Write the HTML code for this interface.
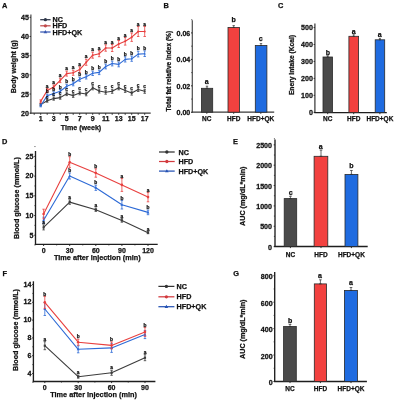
<!DOCTYPE html>
<html><head><meta charset="utf-8"><style>
html,body{margin:0;padding:0;background:#fff;width:394px;height:400px;overflow:hidden}
svg{display:block;will-change:transform;font-family:"Liberation Sans",sans-serif}
</style></head><body>
<svg width="394" height="400" viewBox="0 0 394 400">
<rect x="0" y="0" width="394" height="400" fill="#fff"/>
<text x="1.90" y="7.96" font-size="7.4" text-anchor="start" font-weight="bold" fill="#111" stroke="#111" stroke-width="0.25" >A</text>
<text x="163.50" y="8.06" font-size="7.4" text-anchor="start" font-weight="bold" fill="#111" stroke="#111" stroke-width="0.25" >B</text>
<text x="278.00" y="8.26" font-size="7.4" text-anchor="start" font-weight="bold" fill="#111" stroke="#111" stroke-width="0.25" >C</text>
<text x="2.00" y="144.06" font-size="7.4" text-anchor="start" font-weight="bold" fill="#111" stroke="#111" stroke-width="0.25" >D</text>
<text x="233.00" y="143.86" font-size="7.4" text-anchor="start" font-weight="bold" fill="#111" stroke="#111" stroke-width="0.25" >E</text>
<text x="2.60" y="275.76" font-size="7.4" text-anchor="start" font-weight="bold" fill="#111" stroke="#111" stroke-width="0.25" >F</text>
<text x="233.30" y="275.76" font-size="7.4" text-anchor="start" font-weight="bold" fill="#111" stroke="#111" stroke-width="0.25" >G</text>
<line x1="30.90" y1="14.40" x2="30.90" y2="113.80" stroke="#4a4a4a" stroke-width="1.2" />
<line x1="29.60" y1="113.20" x2="30.90" y2="113.20" stroke="#1e1e1e" stroke-width="0.9" />
<text transform="translate(28.90 115.90) scale(0.95 1)" font-size="7.5" text-anchor="end" font-weight="bold" fill="#111" stroke="#111" stroke-width="0.28" >20</text>
<line x1="29.60" y1="94.02" x2="30.90" y2="94.02" stroke="#1e1e1e" stroke-width="0.9" />
<text transform="translate(28.90 96.72) scale(0.95 1)" font-size="7.5" text-anchor="end" font-weight="bold" fill="#111" stroke="#111" stroke-width="0.28" >25</text>
<line x1="29.60" y1="74.84" x2="30.90" y2="74.84" stroke="#1e1e1e" stroke-width="0.9" />
<text transform="translate(28.90 77.54) scale(0.95 1)" font-size="7.5" text-anchor="end" font-weight="bold" fill="#111" stroke="#111" stroke-width="0.28" >30</text>
<line x1="29.60" y1="55.66" x2="30.90" y2="55.66" stroke="#1e1e1e" stroke-width="0.9" />
<text transform="translate(28.90 58.36) scale(0.95 1)" font-size="7.5" text-anchor="end" font-weight="bold" fill="#111" stroke="#111" stroke-width="0.28" >35</text>
<line x1="29.60" y1="36.48" x2="30.90" y2="36.48" stroke="#1e1e1e" stroke-width="0.9" />
<text transform="translate(28.90 39.18) scale(0.95 1)" font-size="7.5" text-anchor="end" font-weight="bold" fill="#111" stroke="#111" stroke-width="0.28" >40</text>
<line x1="29.60" y1="17.30" x2="30.90" y2="17.30" stroke="#1e1e1e" stroke-width="0.9" />
<text transform="translate(28.90 20.00) scale(0.95 1)" font-size="7.5" text-anchor="end" font-weight="bold" fill="#111" stroke="#111" stroke-width="0.28" >45</text>
<line x1="30.30" y1="113.20" x2="150.70" y2="113.20" stroke="#3a3a3a" stroke-width="1.2" />
<line x1="34.20" y1="113.20" x2="34.20" y2="114.80" stroke="#1e1e1e" stroke-width="0.9" />
<line x1="40.70" y1="113.20" x2="40.70" y2="114.80" stroke="#1e1e1e" stroke-width="0.9" />
<text x="40.70" y="120.92" font-size="7.0" text-anchor="middle" font-weight="bold" fill="#111" stroke="#111" stroke-width="0.25" >1</text>
<line x1="47.20" y1="113.20" x2="47.20" y2="114.80" stroke="#1e1e1e" stroke-width="0.9" />
<line x1="53.70" y1="113.20" x2="53.70" y2="114.80" stroke="#1e1e1e" stroke-width="0.9" />
<text x="53.70" y="120.92" font-size="7.0" text-anchor="middle" font-weight="bold" fill="#111" stroke="#111" stroke-width="0.25" >3</text>
<line x1="60.20" y1="113.20" x2="60.20" y2="114.80" stroke="#1e1e1e" stroke-width="0.9" />
<line x1="66.70" y1="113.20" x2="66.70" y2="114.80" stroke="#1e1e1e" stroke-width="0.9" />
<text x="66.70" y="120.92" font-size="7.0" text-anchor="middle" font-weight="bold" fill="#111" stroke="#111" stroke-width="0.25" >5</text>
<line x1="73.20" y1="113.20" x2="73.20" y2="114.80" stroke="#1e1e1e" stroke-width="0.9" />
<line x1="79.70" y1="113.20" x2="79.70" y2="114.80" stroke="#1e1e1e" stroke-width="0.9" />
<text x="79.70" y="120.92" font-size="7.0" text-anchor="middle" font-weight="bold" fill="#111" stroke="#111" stroke-width="0.25" >7</text>
<line x1="86.20" y1="113.20" x2="86.20" y2="114.80" stroke="#1e1e1e" stroke-width="0.9" />
<line x1="92.70" y1="113.20" x2="92.70" y2="114.80" stroke="#1e1e1e" stroke-width="0.9" />
<text x="92.70" y="120.92" font-size="7.0" text-anchor="middle" font-weight="bold" fill="#111" stroke="#111" stroke-width="0.25" >9</text>
<line x1="99.20" y1="113.20" x2="99.20" y2="114.80" stroke="#1e1e1e" stroke-width="0.9" />
<line x1="105.70" y1="113.20" x2="105.70" y2="114.80" stroke="#1e1e1e" stroke-width="0.9" />
<text x="105.70" y="120.92" font-size="7.0" text-anchor="middle" font-weight="bold" fill="#111" stroke="#111" stroke-width="0.25" >11</text>
<line x1="112.20" y1="113.20" x2="112.20" y2="114.80" stroke="#1e1e1e" stroke-width="0.9" />
<line x1="118.70" y1="113.20" x2="118.70" y2="114.80" stroke="#1e1e1e" stroke-width="0.9" />
<text x="118.70" y="120.92" font-size="7.0" text-anchor="middle" font-weight="bold" fill="#111" stroke="#111" stroke-width="0.25" >13</text>
<line x1="125.20" y1="113.20" x2="125.20" y2="114.80" stroke="#1e1e1e" stroke-width="0.9" />
<line x1="131.70" y1="113.20" x2="131.70" y2="114.80" stroke="#1e1e1e" stroke-width="0.9" />
<text x="131.70" y="120.92" font-size="7.0" text-anchor="middle" font-weight="bold" fill="#111" stroke="#111" stroke-width="0.25" >15</text>
<line x1="138.20" y1="113.20" x2="138.20" y2="114.80" stroke="#1e1e1e" stroke-width="0.9" />
<line x1="144.70" y1="113.20" x2="144.70" y2="114.80" stroke="#1e1e1e" stroke-width="0.9" />
<text x="144.70" y="120.92" font-size="7.0" text-anchor="middle" font-weight="bold" fill="#111" stroke="#111" stroke-width="0.25" >17</text>
<text x="81.00" y="130.36" font-size="7.1" text-anchor="middle" font-weight="bold" fill="#111" stroke="#111" stroke-width="0.25" >Time (week)</text>
<text x="13.80" y="66.70" font-size="7.1" text-anchor="middle" font-weight="bold" fill="#111" stroke="#111" stroke-width="0.25" transform="rotate(-90 13.80 66.70)" dy="2.56">Body weight (g)</text>
<polyline points="40.70,104.60 47.20,100.80 53.70,98.60 60.20,97.60 66.70,93.80 73.20,95.60 79.70,93.00 86.20,94.00 92.70,87.80 99.20,91.00 105.70,92.20 112.20,91.30 118.70,87.80 125.20,90.40 131.70,93.10 138.20,89.50 144.70,91.30" fill="none" stroke="#3c3c3c" stroke-width="1.1" stroke-linejoin="round"/>
<line x1="40.70" y1="103.60" x2="40.70" y2="105.60" stroke="#3c3c3c" stroke-width="0.8" />
<line x1="39.45" y1="103.60" x2="41.95" y2="103.60" stroke="#3c3c3c" stroke-width="0.8" />
<line x1="39.45" y1="105.60" x2="41.95" y2="105.60" stroke="#3c3c3c" stroke-width="0.8" />
<rect x="39.80" y="103.70" width="1.80" height="1.80" fill="#3c3c3c"/>
<line x1="47.20" y1="99.40" x2="47.20" y2="102.20" stroke="#3c3c3c" stroke-width="0.8" />
<line x1="45.95" y1="99.40" x2="48.45" y2="99.40" stroke="#3c3c3c" stroke-width="0.8" />
<line x1="45.95" y1="102.20" x2="48.45" y2="102.20" stroke="#3c3c3c" stroke-width="0.8" />
<rect x="46.30" y="99.90" width="1.80" height="1.80" fill="#3c3c3c"/>
<line x1="53.70" y1="97.00" x2="53.70" y2="100.20" stroke="#3c3c3c" stroke-width="0.8" />
<line x1="52.45" y1="97.00" x2="54.95" y2="97.00" stroke="#3c3c3c" stroke-width="0.8" />
<line x1="52.45" y1="100.20" x2="54.95" y2="100.20" stroke="#3c3c3c" stroke-width="0.8" />
<rect x="52.80" y="97.70" width="1.80" height="1.80" fill="#3c3c3c"/>
<line x1="60.20" y1="96.00" x2="60.20" y2="99.20" stroke="#3c3c3c" stroke-width="0.8" />
<line x1="58.95" y1="96.00" x2="61.45" y2="96.00" stroke="#3c3c3c" stroke-width="0.8" />
<line x1="58.95" y1="99.20" x2="61.45" y2="99.20" stroke="#3c3c3c" stroke-width="0.8" />
<rect x="59.30" y="96.70" width="1.80" height="1.80" fill="#3c3c3c"/>
<line x1="66.70" y1="92.00" x2="66.70" y2="95.60" stroke="#3c3c3c" stroke-width="0.8" />
<line x1="65.45" y1="92.00" x2="67.95" y2="92.00" stroke="#3c3c3c" stroke-width="0.8" />
<line x1="65.45" y1="95.60" x2="67.95" y2="95.60" stroke="#3c3c3c" stroke-width="0.8" />
<rect x="65.80" y="92.90" width="1.80" height="1.80" fill="#3c3c3c"/>
<line x1="73.20" y1="93.80" x2="73.20" y2="97.40" stroke="#3c3c3c" stroke-width="0.8" />
<line x1="71.95" y1="93.80" x2="74.45" y2="93.80" stroke="#3c3c3c" stroke-width="0.8" />
<line x1="71.95" y1="97.40" x2="74.45" y2="97.40" stroke="#3c3c3c" stroke-width="0.8" />
<rect x="72.30" y="94.70" width="1.80" height="1.80" fill="#3c3c3c"/>
<line x1="79.70" y1="91.20" x2="79.70" y2="94.80" stroke="#3c3c3c" stroke-width="0.8" />
<line x1="78.45" y1="91.20" x2="80.95" y2="91.20" stroke="#3c3c3c" stroke-width="0.8" />
<line x1="78.45" y1="94.80" x2="80.95" y2="94.80" stroke="#3c3c3c" stroke-width="0.8" />
<rect x="78.80" y="92.10" width="1.80" height="1.80" fill="#3c3c3c"/>
<line x1="86.20" y1="92.20" x2="86.20" y2="95.80" stroke="#3c3c3c" stroke-width="0.8" />
<line x1="84.95" y1="92.20" x2="87.45" y2="92.20" stroke="#3c3c3c" stroke-width="0.8" />
<line x1="84.95" y1="95.80" x2="87.45" y2="95.80" stroke="#3c3c3c" stroke-width="0.8" />
<rect x="85.30" y="93.10" width="1.80" height="1.80" fill="#3c3c3c"/>
<line x1="92.70" y1="85.80" x2="92.70" y2="89.80" stroke="#3c3c3c" stroke-width="0.8" />
<line x1="91.45" y1="85.80" x2="93.95" y2="85.80" stroke="#3c3c3c" stroke-width="0.8" />
<line x1="91.45" y1="89.80" x2="93.95" y2="89.80" stroke="#3c3c3c" stroke-width="0.8" />
<rect x="91.80" y="86.90" width="1.80" height="1.80" fill="#3c3c3c"/>
<line x1="99.20" y1="89.00" x2="99.20" y2="93.00" stroke="#3c3c3c" stroke-width="0.8" />
<line x1="97.95" y1="89.00" x2="100.45" y2="89.00" stroke="#3c3c3c" stroke-width="0.8" />
<line x1="97.95" y1="93.00" x2="100.45" y2="93.00" stroke="#3c3c3c" stroke-width="0.8" />
<rect x="98.30" y="90.10" width="1.80" height="1.80" fill="#3c3c3c"/>
<line x1="105.70" y1="90.20" x2="105.70" y2="94.20" stroke="#3c3c3c" stroke-width="0.8" />
<line x1="104.45" y1="90.20" x2="106.95" y2="90.20" stroke="#3c3c3c" stroke-width="0.8" />
<line x1="104.45" y1="94.20" x2="106.95" y2="94.20" stroke="#3c3c3c" stroke-width="0.8" />
<rect x="104.80" y="91.30" width="1.80" height="1.80" fill="#3c3c3c"/>
<line x1="112.20" y1="89.30" x2="112.20" y2="93.30" stroke="#3c3c3c" stroke-width="0.8" />
<line x1="110.95" y1="89.30" x2="113.45" y2="89.30" stroke="#3c3c3c" stroke-width="0.8" />
<line x1="110.95" y1="93.30" x2="113.45" y2="93.30" stroke="#3c3c3c" stroke-width="0.8" />
<rect x="111.30" y="90.40" width="1.80" height="1.80" fill="#3c3c3c"/>
<line x1="118.70" y1="85.80" x2="118.70" y2="89.80" stroke="#3c3c3c" stroke-width="0.8" />
<line x1="117.45" y1="85.80" x2="119.95" y2="85.80" stroke="#3c3c3c" stroke-width="0.8" />
<line x1="117.45" y1="89.80" x2="119.95" y2="89.80" stroke="#3c3c3c" stroke-width="0.8" />
<rect x="117.80" y="86.90" width="1.80" height="1.80" fill="#3c3c3c"/>
<line x1="125.20" y1="88.40" x2="125.20" y2="92.40" stroke="#3c3c3c" stroke-width="0.8" />
<line x1="123.95" y1="88.40" x2="126.45" y2="88.40" stroke="#3c3c3c" stroke-width="0.8" />
<line x1="123.95" y1="92.40" x2="126.45" y2="92.40" stroke="#3c3c3c" stroke-width="0.8" />
<rect x="124.30" y="89.50" width="1.80" height="1.80" fill="#3c3c3c"/>
<line x1="131.70" y1="91.10" x2="131.70" y2="95.10" stroke="#3c3c3c" stroke-width="0.8" />
<line x1="130.45" y1="91.10" x2="132.95" y2="91.10" stroke="#3c3c3c" stroke-width="0.8" />
<line x1="130.45" y1="95.10" x2="132.95" y2="95.10" stroke="#3c3c3c" stroke-width="0.8" />
<rect x="130.80" y="92.20" width="1.80" height="1.80" fill="#3c3c3c"/>
<line x1="138.20" y1="87.50" x2="138.20" y2="91.50" stroke="#3c3c3c" stroke-width="0.8" />
<line x1="136.95" y1="87.50" x2="139.45" y2="87.50" stroke="#3c3c3c" stroke-width="0.8" />
<line x1="136.95" y1="91.50" x2="139.45" y2="91.50" stroke="#3c3c3c" stroke-width="0.8" />
<rect x="137.30" y="88.60" width="1.80" height="1.80" fill="#3c3c3c"/>
<line x1="144.70" y1="89.30" x2="144.70" y2="93.30" stroke="#3c3c3c" stroke-width="0.8" />
<line x1="143.45" y1="89.30" x2="145.95" y2="89.30" stroke="#3c3c3c" stroke-width="0.8" />
<line x1="143.45" y1="93.30" x2="145.95" y2="93.30" stroke="#3c3c3c" stroke-width="0.8" />
<rect x="143.80" y="90.40" width="1.80" height="1.80" fill="#3c3c3c"/>
<polyline points="40.70,105.60 47.20,95.80 53.70,93.60 60.20,91.20 66.70,86.30 73.20,83.80 79.70,79.30 86.20,76.80 92.70,73.30 99.20,72.40 105.70,66.50 112.20,63.50 118.70,64.40 125.20,59.40 131.70,58.70 138.20,54.10 144.70,53.70" fill="none" stroke="#2d6ad6" stroke-width="1.1" stroke-linejoin="round"/>
<line x1="40.70" y1="104.40" x2="40.70" y2="106.80" stroke="#2d6ad6" stroke-width="0.8" />
<line x1="39.45" y1="104.40" x2="41.95" y2="104.40" stroke="#2d6ad6" stroke-width="0.8" />
<line x1="39.45" y1="106.80" x2="41.95" y2="106.80" stroke="#2d6ad6" stroke-width="0.8" />
<polygon points="40.70,104.40 39.60,106.40 41.80,106.40" fill="#2d6ad6"/>
<line x1="47.20" y1="94.20" x2="47.20" y2="97.40" stroke="#2d6ad6" stroke-width="0.8" />
<line x1="45.95" y1="94.20" x2="48.45" y2="94.20" stroke="#2d6ad6" stroke-width="0.8" />
<line x1="45.95" y1="97.40" x2="48.45" y2="97.40" stroke="#2d6ad6" stroke-width="0.8" />
<polygon points="47.20,94.60 46.10,96.60 48.30,96.60" fill="#2d6ad6"/>
<line x1="53.70" y1="91.80" x2="53.70" y2="95.40" stroke="#2d6ad6" stroke-width="0.8" />
<line x1="52.45" y1="91.80" x2="54.95" y2="91.80" stroke="#2d6ad6" stroke-width="0.8" />
<line x1="52.45" y1="95.40" x2="54.95" y2="95.40" stroke="#2d6ad6" stroke-width="0.8" />
<polygon points="53.70,92.40 52.60,94.40 54.80,94.40" fill="#2d6ad6"/>
<line x1="60.20" y1="89.40" x2="60.20" y2="93.00" stroke="#2d6ad6" stroke-width="0.8" />
<line x1="58.95" y1="89.40" x2="61.45" y2="89.40" stroke="#2d6ad6" stroke-width="0.8" />
<line x1="58.95" y1="93.00" x2="61.45" y2="93.00" stroke="#2d6ad6" stroke-width="0.8" />
<polygon points="60.20,90.00 59.10,92.00 61.30,92.00" fill="#2d6ad6"/>
<line x1="66.70" y1="84.30" x2="66.70" y2="88.30" stroke="#2d6ad6" stroke-width="0.8" />
<line x1="65.45" y1="84.30" x2="67.95" y2="84.30" stroke="#2d6ad6" stroke-width="0.8" />
<line x1="65.45" y1="88.30" x2="67.95" y2="88.30" stroke="#2d6ad6" stroke-width="0.8" />
<polygon points="66.70,85.10 65.60,87.10 67.80,87.10" fill="#2d6ad6"/>
<line x1="73.20" y1="81.80" x2="73.20" y2="85.80" stroke="#2d6ad6" stroke-width="0.8" />
<line x1="71.95" y1="81.80" x2="74.45" y2="81.80" stroke="#2d6ad6" stroke-width="0.8" />
<line x1="71.95" y1="85.80" x2="74.45" y2="85.80" stroke="#2d6ad6" stroke-width="0.8" />
<polygon points="73.20,82.60 72.10,84.60 74.30,84.60" fill="#2d6ad6"/>
<line x1="79.70" y1="77.30" x2="79.70" y2="81.30" stroke="#2d6ad6" stroke-width="0.8" />
<line x1="78.45" y1="77.30" x2="80.95" y2="77.30" stroke="#2d6ad6" stroke-width="0.8" />
<line x1="78.45" y1="81.30" x2="80.95" y2="81.30" stroke="#2d6ad6" stroke-width="0.8" />
<polygon points="79.70,78.10 78.60,80.10 80.80,80.10" fill="#2d6ad6"/>
<line x1="86.20" y1="74.60" x2="86.20" y2="79.00" stroke="#2d6ad6" stroke-width="0.8" />
<line x1="84.95" y1="74.60" x2="87.45" y2="74.60" stroke="#2d6ad6" stroke-width="0.8" />
<line x1="84.95" y1="79.00" x2="87.45" y2="79.00" stroke="#2d6ad6" stroke-width="0.8" />
<polygon points="86.20,75.60 85.10,77.60 87.30,77.60" fill="#2d6ad6"/>
<line x1="92.70" y1="71.10" x2="92.70" y2="75.50" stroke="#2d6ad6" stroke-width="0.8" />
<line x1="91.45" y1="71.10" x2="93.95" y2="71.10" stroke="#2d6ad6" stroke-width="0.8" />
<line x1="91.45" y1="75.50" x2="93.95" y2="75.50" stroke="#2d6ad6" stroke-width="0.8" />
<polygon points="92.70,72.10 91.60,74.10 93.80,74.10" fill="#2d6ad6"/>
<line x1="99.20" y1="70.20" x2="99.20" y2="74.60" stroke="#2d6ad6" stroke-width="0.8" />
<line x1="97.95" y1="70.20" x2="100.45" y2="70.20" stroke="#2d6ad6" stroke-width="0.8" />
<line x1="97.95" y1="74.60" x2="100.45" y2="74.60" stroke="#2d6ad6" stroke-width="0.8" />
<polygon points="99.20,71.20 98.10,73.20 100.30,73.20" fill="#2d6ad6"/>
<line x1="105.70" y1="64.10" x2="105.70" y2="68.90" stroke="#2d6ad6" stroke-width="0.8" />
<line x1="104.45" y1="64.10" x2="106.95" y2="64.10" stroke="#2d6ad6" stroke-width="0.8" />
<line x1="104.45" y1="68.90" x2="106.95" y2="68.90" stroke="#2d6ad6" stroke-width="0.8" />
<polygon points="105.70,65.30 104.60,67.30 106.80,67.30" fill="#2d6ad6"/>
<line x1="112.20" y1="61.10" x2="112.20" y2="65.90" stroke="#2d6ad6" stroke-width="0.8" />
<line x1="110.95" y1="61.10" x2="113.45" y2="61.10" stroke="#2d6ad6" stroke-width="0.8" />
<line x1="110.95" y1="65.90" x2="113.45" y2="65.90" stroke="#2d6ad6" stroke-width="0.8" />
<polygon points="112.20,62.30 111.10,64.30 113.30,64.30" fill="#2d6ad6"/>
<line x1="118.70" y1="62.00" x2="118.70" y2="66.80" stroke="#2d6ad6" stroke-width="0.8" />
<line x1="117.45" y1="62.00" x2="119.95" y2="62.00" stroke="#2d6ad6" stroke-width="0.8" />
<line x1="117.45" y1="66.80" x2="119.95" y2="66.80" stroke="#2d6ad6" stroke-width="0.8" />
<polygon points="118.70,63.20 117.60,65.20 119.80,65.20" fill="#2d6ad6"/>
<line x1="125.20" y1="56.80" x2="125.20" y2="62.00" stroke="#2d6ad6" stroke-width="0.8" />
<line x1="123.95" y1="56.80" x2="126.45" y2="56.80" stroke="#2d6ad6" stroke-width="0.8" />
<line x1="123.95" y1="62.00" x2="126.45" y2="62.00" stroke="#2d6ad6" stroke-width="0.8" />
<polygon points="125.20,58.20 124.10,60.20 126.30,60.20" fill="#2d6ad6"/>
<line x1="131.70" y1="56.10" x2="131.70" y2="61.30" stroke="#2d6ad6" stroke-width="0.8" />
<line x1="130.45" y1="56.10" x2="132.95" y2="56.10" stroke="#2d6ad6" stroke-width="0.8" />
<line x1="130.45" y1="61.30" x2="132.95" y2="61.30" stroke="#2d6ad6" stroke-width="0.8" />
<polygon points="131.70,57.50 130.60,59.50 132.80,59.50" fill="#2d6ad6"/>
<line x1="138.20" y1="51.30" x2="138.20" y2="56.90" stroke="#2d6ad6" stroke-width="0.8" />
<line x1="136.95" y1="51.30" x2="139.45" y2="51.30" stroke="#2d6ad6" stroke-width="0.8" />
<line x1="136.95" y1="56.90" x2="139.45" y2="56.90" stroke="#2d6ad6" stroke-width="0.8" />
<polygon points="138.20,52.90 137.10,54.90 139.30,54.90" fill="#2d6ad6"/>
<line x1="144.70" y1="50.90" x2="144.70" y2="56.50" stroke="#2d6ad6" stroke-width="0.8" />
<line x1="143.45" y1="50.90" x2="145.95" y2="50.90" stroke="#2d6ad6" stroke-width="0.8" />
<line x1="143.45" y1="56.50" x2="145.95" y2="56.50" stroke="#2d6ad6" stroke-width="0.8" />
<polygon points="144.70,52.50 143.60,54.50 145.80,54.50" fill="#2d6ad6"/>
<polyline points="40.70,101.40 47.20,90.50 53.70,87.00 60.20,80.40 66.70,73.60 73.20,72.80 79.70,69.60 86.20,62.30 92.70,55.20 99.20,53.70 105.70,48.00 112.20,48.00 118.70,44.00 125.20,41.30 131.70,37.20 138.20,31.50 144.70,31.50" fill="none" stroke="#e8403f" stroke-width="1.1" stroke-linejoin="round"/>
<line x1="40.70" y1="99.90" x2="40.70" y2="102.90" stroke="#e8403f" stroke-width="0.8" />
<line x1="39.45" y1="99.90" x2="41.95" y2="99.90" stroke="#e8403f" stroke-width="0.8" />
<line x1="39.45" y1="102.90" x2="41.95" y2="102.90" stroke="#e8403f" stroke-width="0.8" />
<circle cx="40.70" cy="101.40" r="1.0" fill="#e8403f"/>
<line x1="47.20" y1="88.50" x2="47.20" y2="92.50" stroke="#e8403f" stroke-width="0.8" />
<line x1="45.95" y1="88.50" x2="48.45" y2="88.50" stroke="#e8403f" stroke-width="0.8" />
<line x1="45.95" y1="92.50" x2="48.45" y2="92.50" stroke="#e8403f" stroke-width="0.8" />
<circle cx="47.20" cy="90.50" r="1.0" fill="#e8403f"/>
<line x1="53.70" y1="85.00" x2="53.70" y2="89.00" stroke="#e8403f" stroke-width="0.8" />
<line x1="52.45" y1="85.00" x2="54.95" y2="85.00" stroke="#e8403f" stroke-width="0.8" />
<line x1="52.45" y1="89.00" x2="54.95" y2="89.00" stroke="#e8403f" stroke-width="0.8" />
<circle cx="53.70" cy="87.00" r="1.0" fill="#e8403f"/>
<line x1="60.20" y1="78.20" x2="60.20" y2="82.60" stroke="#e8403f" stroke-width="0.8" />
<line x1="58.95" y1="78.20" x2="61.45" y2="78.20" stroke="#e8403f" stroke-width="0.8" />
<line x1="58.95" y1="82.60" x2="61.45" y2="82.60" stroke="#e8403f" stroke-width="0.8" />
<circle cx="60.20" cy="80.40" r="1.0" fill="#e8403f"/>
<line x1="66.70" y1="71.10" x2="66.70" y2="76.10" stroke="#e8403f" stroke-width="0.8" />
<line x1="65.45" y1="71.10" x2="67.95" y2="71.10" stroke="#e8403f" stroke-width="0.8" />
<line x1="65.45" y1="76.10" x2="67.95" y2="76.10" stroke="#e8403f" stroke-width="0.8" />
<circle cx="66.70" cy="73.60" r="1.0" fill="#e8403f"/>
<line x1="73.20" y1="70.30" x2="73.20" y2="75.30" stroke="#e8403f" stroke-width="0.8" />
<line x1="71.95" y1="70.30" x2="74.45" y2="70.30" stroke="#e8403f" stroke-width="0.8" />
<line x1="71.95" y1="75.30" x2="74.45" y2="75.30" stroke="#e8403f" stroke-width="0.8" />
<circle cx="73.20" cy="72.80" r="1.0" fill="#e8403f"/>
<line x1="79.70" y1="66.80" x2="79.70" y2="72.40" stroke="#e8403f" stroke-width="0.8" />
<line x1="78.45" y1="66.80" x2="80.95" y2="66.80" stroke="#e8403f" stroke-width="0.8" />
<line x1="78.45" y1="72.40" x2="80.95" y2="72.40" stroke="#e8403f" stroke-width="0.8" />
<circle cx="79.70" cy="69.60" r="1.0" fill="#e8403f"/>
<line x1="86.20" y1="59.30" x2="86.20" y2="65.30" stroke="#e8403f" stroke-width="0.8" />
<line x1="84.95" y1="59.30" x2="87.45" y2="59.30" stroke="#e8403f" stroke-width="0.8" />
<line x1="84.95" y1="65.30" x2="87.45" y2="65.30" stroke="#e8403f" stroke-width="0.8" />
<circle cx="86.20" cy="62.30" r="1.0" fill="#e8403f"/>
<line x1="92.70" y1="52.20" x2="92.70" y2="58.20" stroke="#e8403f" stroke-width="0.8" />
<line x1="91.45" y1="52.20" x2="93.95" y2="52.20" stroke="#e8403f" stroke-width="0.8" />
<line x1="91.45" y1="58.20" x2="93.95" y2="58.20" stroke="#e8403f" stroke-width="0.8" />
<circle cx="92.70" cy="55.20" r="1.0" fill="#e8403f"/>
<line x1="99.20" y1="50.70" x2="99.20" y2="56.70" stroke="#e8403f" stroke-width="0.8" />
<line x1="97.95" y1="50.70" x2="100.45" y2="50.70" stroke="#e8403f" stroke-width="0.8" />
<line x1="97.95" y1="56.70" x2="100.45" y2="56.70" stroke="#e8403f" stroke-width="0.8" />
<circle cx="99.20" cy="53.70" r="1.0" fill="#e8403f"/>
<line x1="105.70" y1="44.80" x2="105.70" y2="51.20" stroke="#e8403f" stroke-width="0.8" />
<line x1="104.45" y1="44.80" x2="106.95" y2="44.80" stroke="#e8403f" stroke-width="0.8" />
<line x1="104.45" y1="51.20" x2="106.95" y2="51.20" stroke="#e8403f" stroke-width="0.8" />
<circle cx="105.70" cy="48.00" r="1.0" fill="#e8403f"/>
<line x1="112.20" y1="44.50" x2="112.20" y2="51.50" stroke="#e8403f" stroke-width="0.8" />
<line x1="110.95" y1="44.50" x2="113.45" y2="44.50" stroke="#e8403f" stroke-width="0.8" />
<line x1="110.95" y1="51.50" x2="113.45" y2="51.50" stroke="#e8403f" stroke-width="0.8" />
<circle cx="112.20" cy="48.00" r="1.0" fill="#e8403f"/>
<line x1="118.70" y1="40.50" x2="118.70" y2="47.50" stroke="#e8403f" stroke-width="0.8" />
<line x1="117.45" y1="40.50" x2="119.95" y2="40.50" stroke="#e8403f" stroke-width="0.8" />
<line x1="117.45" y1="47.50" x2="119.95" y2="47.50" stroke="#e8403f" stroke-width="0.8" />
<circle cx="118.70" cy="44.00" r="1.0" fill="#e8403f"/>
<line x1="125.20" y1="37.50" x2="125.20" y2="45.10" stroke="#e8403f" stroke-width="0.8" />
<line x1="123.95" y1="37.50" x2="126.45" y2="37.50" stroke="#e8403f" stroke-width="0.8" />
<line x1="123.95" y1="45.10" x2="126.45" y2="45.10" stroke="#e8403f" stroke-width="0.8" />
<circle cx="125.20" cy="41.30" r="1.0" fill="#e8403f"/>
<line x1="131.70" y1="33.00" x2="131.70" y2="41.40" stroke="#e8403f" stroke-width="0.8" />
<line x1="130.45" y1="33.00" x2="132.95" y2="33.00" stroke="#e8403f" stroke-width="0.8" />
<line x1="130.45" y1="41.40" x2="132.95" y2="41.40" stroke="#e8403f" stroke-width="0.8" />
<circle cx="131.70" cy="37.20" r="1.0" fill="#e8403f"/>
<line x1="138.20" y1="26.50" x2="138.20" y2="36.50" stroke="#e8403f" stroke-width="0.8" />
<line x1="136.95" y1="26.50" x2="139.45" y2="26.50" stroke="#e8403f" stroke-width="0.8" />
<line x1="136.95" y1="36.50" x2="139.45" y2="36.50" stroke="#e8403f" stroke-width="0.8" />
<circle cx="138.20" cy="31.50" r="1.0" fill="#e8403f"/>
<line x1="144.70" y1="26.50" x2="144.70" y2="36.50" stroke="#e8403f" stroke-width="0.8" />
<line x1="143.45" y1="26.50" x2="145.95" y2="26.50" stroke="#e8403f" stroke-width="0.8" />
<line x1="143.45" y1="36.50" x2="145.95" y2="36.50" stroke="#e8403f" stroke-width="0.8" />
<circle cx="144.70" cy="31.50" r="1.0" fill="#e8403f"/>
<text x="47.20" y="98.53" font-size="4.8" text-anchor="middle" font-weight="bold" fill="#111" stroke="#111" stroke-width="0.25" >c</text>
<text x="47.20" y="93.33" font-size="4.8" text-anchor="middle" font-weight="bold" fill="#111" stroke="#111" stroke-width="0.25" >b</text>
<text x="47.20" y="87.63" font-size="4.8" text-anchor="middle" font-weight="bold" fill="#111" stroke="#111" stroke-width="0.25" >a</text>
<text x="53.70" y="96.13" font-size="4.8" text-anchor="middle" font-weight="bold" fill="#111" stroke="#111" stroke-width="0.25" >c</text>
<text x="53.70" y="90.93" font-size="4.8" text-anchor="middle" font-weight="bold" fill="#111" stroke="#111" stroke-width="0.25" >b</text>
<text x="53.70" y="84.13" font-size="4.8" text-anchor="middle" font-weight="bold" fill="#111" stroke="#111" stroke-width="0.25" >a</text>
<text x="60.20" y="95.13" font-size="4.8" text-anchor="middle" font-weight="bold" fill="#111" stroke="#111" stroke-width="0.25" >c</text>
<text x="60.20" y="88.53" font-size="4.8" text-anchor="middle" font-weight="bold" fill="#111" stroke="#111" stroke-width="0.25" >b</text>
<text x="60.20" y="77.33" font-size="4.8" text-anchor="middle" font-weight="bold" fill="#111" stroke="#111" stroke-width="0.25" >a</text>
<text x="66.70" y="91.13" font-size="4.8" text-anchor="middle" font-weight="bold" fill="#111" stroke="#111" stroke-width="0.25" >c</text>
<text x="66.70" y="83.43" font-size="4.8" text-anchor="middle" font-weight="bold" fill="#111" stroke="#111" stroke-width="0.25" >b</text>
<text x="66.70" y="70.23" font-size="4.8" text-anchor="middle" font-weight="bold" fill="#111" stroke="#111" stroke-width="0.25" >a</text>
<text x="73.20" y="92.93" font-size="4.8" text-anchor="middle" font-weight="bold" fill="#111" stroke="#111" stroke-width="0.25" >c</text>
<text x="73.20" y="80.93" font-size="4.8" text-anchor="middle" font-weight="bold" fill="#111" stroke="#111" stroke-width="0.25" >b</text>
<text x="73.20" y="69.43" font-size="4.8" text-anchor="middle" font-weight="bold" fill="#111" stroke="#111" stroke-width="0.25" >a</text>
<text x="79.70" y="90.33" font-size="4.8" text-anchor="middle" font-weight="bold" fill="#111" stroke="#111" stroke-width="0.25" >c</text>
<text x="79.70" y="76.43" font-size="4.8" text-anchor="middle" font-weight="bold" fill="#111" stroke="#111" stroke-width="0.25" >b</text>
<text x="79.70" y="65.93" font-size="4.8" text-anchor="middle" font-weight="bold" fill="#111" stroke="#111" stroke-width="0.25" >a</text>
<text x="86.20" y="91.33" font-size="4.8" text-anchor="middle" font-weight="bold" fill="#111" stroke="#111" stroke-width="0.25" >c</text>
<text x="86.20" y="73.73" font-size="4.8" text-anchor="middle" font-weight="bold" fill="#111" stroke="#111" stroke-width="0.25" >b</text>
<text x="86.20" y="58.43" font-size="4.8" text-anchor="middle" font-weight="bold" fill="#111" stroke="#111" stroke-width="0.25" >a</text>
<text x="92.70" y="84.93" font-size="4.8" text-anchor="middle" font-weight="bold" fill="#111" stroke="#111" stroke-width="0.25" >c</text>
<text x="92.70" y="70.23" font-size="4.8" text-anchor="middle" font-weight="bold" fill="#111" stroke="#111" stroke-width="0.25" >b</text>
<text x="92.70" y="51.33" font-size="4.8" text-anchor="middle" font-weight="bold" fill="#111" stroke="#111" stroke-width="0.25" >a</text>
<text x="99.20" y="88.13" font-size="4.8" text-anchor="middle" font-weight="bold" fill="#111" stroke="#111" stroke-width="0.25" >c</text>
<text x="99.20" y="69.33" font-size="4.8" text-anchor="middle" font-weight="bold" fill="#111" stroke="#111" stroke-width="0.25" >b</text>
<text x="99.20" y="49.83" font-size="4.8" text-anchor="middle" font-weight="bold" fill="#111" stroke="#111" stroke-width="0.25" >a</text>
<text x="105.70" y="89.33" font-size="4.8" text-anchor="middle" font-weight="bold" fill="#111" stroke="#111" stroke-width="0.25" >c</text>
<text x="105.70" y="63.23" font-size="4.8" text-anchor="middle" font-weight="bold" fill="#111" stroke="#111" stroke-width="0.25" >b</text>
<text x="105.70" y="43.93" font-size="4.8" text-anchor="middle" font-weight="bold" fill="#111" stroke="#111" stroke-width="0.25" >a</text>
<text x="112.20" y="88.43" font-size="4.8" text-anchor="middle" font-weight="bold" fill="#111" stroke="#111" stroke-width="0.25" >c</text>
<text x="112.20" y="60.23" font-size="4.8" text-anchor="middle" font-weight="bold" fill="#111" stroke="#111" stroke-width="0.25" >b</text>
<text x="112.20" y="43.63" font-size="4.8" text-anchor="middle" font-weight="bold" fill="#111" stroke="#111" stroke-width="0.25" >a</text>
<text x="118.70" y="84.93" font-size="4.8" text-anchor="middle" font-weight="bold" fill="#111" stroke="#111" stroke-width="0.25" >c</text>
<text x="118.70" y="61.13" font-size="4.8" text-anchor="middle" font-weight="bold" fill="#111" stroke="#111" stroke-width="0.25" >b</text>
<text x="118.70" y="39.63" font-size="4.8" text-anchor="middle" font-weight="bold" fill="#111" stroke="#111" stroke-width="0.25" >a</text>
<text x="125.20" y="87.53" font-size="4.8" text-anchor="middle" font-weight="bold" fill="#111" stroke="#111" stroke-width="0.25" >c</text>
<text x="125.20" y="55.93" font-size="4.8" text-anchor="middle" font-weight="bold" fill="#111" stroke="#111" stroke-width="0.25" >b</text>
<text x="125.20" y="36.63" font-size="4.8" text-anchor="middle" font-weight="bold" fill="#111" stroke="#111" stroke-width="0.25" >a</text>
<text x="131.70" y="90.23" font-size="4.8" text-anchor="middle" font-weight="bold" fill="#111" stroke="#111" stroke-width="0.25" >c</text>
<text x="131.70" y="55.23" font-size="4.8" text-anchor="middle" font-weight="bold" fill="#111" stroke="#111" stroke-width="0.25" >b</text>
<text x="131.70" y="32.13" font-size="4.8" text-anchor="middle" font-weight="bold" fill="#111" stroke="#111" stroke-width="0.25" >a</text>
<text x="138.20" y="86.63" font-size="4.8" text-anchor="middle" font-weight="bold" fill="#111" stroke="#111" stroke-width="0.25" >c</text>
<text x="138.20" y="50.43" font-size="4.8" text-anchor="middle" font-weight="bold" fill="#111" stroke="#111" stroke-width="0.25" >b</text>
<text x="138.20" y="25.63" font-size="4.8" text-anchor="middle" font-weight="bold" fill="#111" stroke="#111" stroke-width="0.25" >a</text>
<text x="144.70" y="88.43" font-size="4.8" text-anchor="middle" font-weight="bold" fill="#111" stroke="#111" stroke-width="0.25" >c</text>
<text x="144.70" y="50.03" font-size="4.8" text-anchor="middle" font-weight="bold" fill="#111" stroke="#111" stroke-width="0.25" >b</text>
<text x="144.70" y="25.63" font-size="4.8" text-anchor="middle" font-weight="bold" fill="#111" stroke="#111" stroke-width="0.25" >a</text>
<line x1="40.20" y1="19.70" x2="50.60" y2="19.70" stroke="#2e3648" stroke-width="1.25" />
<circle cx="45.40" cy="19.70" r="1.65" fill="#2e3648"/>
<text x="52.50" y="22.29" font-size="7.2" text-anchor="start" font-weight="bold" fill="#111" stroke="#111" stroke-width="0.25" >NC</text>
<line x1="40.20" y1="25.80" x2="50.60" y2="25.80" stroke="#c04a4a" stroke-width="1.25" />
<circle cx="45.40" cy="25.80" r="1.65" fill="#c04a4a"/>
<text x="52.50" y="28.39" font-size="7.2" text-anchor="start" font-weight="bold" fill="#111" stroke="#111" stroke-width="0.25" >HFD</text>
<line x1="40.20" y1="32.00" x2="50.60" y2="32.00" stroke="#3556b0" stroke-width="1.25" />
<polygon points="45.40,30.10 43.60,33.20 47.20,33.20" fill="#3556b0"/>
<text x="52.50" y="34.59" font-size="7.2" text-anchor="start" font-weight="bold" fill="#111" stroke="#111" stroke-width="0.25" >HFD+QK</text>
<line x1="192.30" y1="20.20" x2="192.30" y2="112.80" stroke="#4a4a4a" stroke-width="1.2" />
<line x1="191.00" y1="112.30" x2="192.30" y2="112.30" stroke="#1e1e1e" stroke-width="0.9" />
<text transform="translate(190.30 115.40) scale(0.95 1)" font-size="7.5" text-anchor="end" font-weight="bold" fill="#111" stroke="#111" stroke-width="0.28" >0.00</text>
<line x1="191.00" y1="85.84" x2="192.30" y2="85.84" stroke="#1e1e1e" stroke-width="0.9" />
<text transform="translate(190.30 88.94) scale(0.95 1)" font-size="7.5" text-anchor="end" font-weight="bold" fill="#111" stroke="#111" stroke-width="0.28" >0.02</text>
<line x1="191.00" y1="59.38" x2="192.30" y2="59.38" stroke="#1e1e1e" stroke-width="0.9" />
<text transform="translate(190.30 62.48) scale(0.95 1)" font-size="7.5" text-anchor="end" font-weight="bold" fill="#111" stroke="#111" stroke-width="0.28" >0.04</text>
<line x1="191.00" y1="32.92" x2="192.30" y2="32.92" stroke="#1e1e1e" stroke-width="0.9" />
<text transform="translate(190.30 36.02) scale(0.95 1)" font-size="7.5" text-anchor="end" font-weight="bold" fill="#111" stroke="#111" stroke-width="0.28" >0.06</text>
<line x1="191.20" y1="99.07" x2="192.30" y2="99.07" stroke="#1e1e1e" stroke-width="0.7" />
<line x1="191.20" y1="72.61" x2="192.30" y2="72.61" stroke="#1e1e1e" stroke-width="0.7" />
<line x1="191.20" y1="46.15" x2="192.30" y2="46.15" stroke="#1e1e1e" stroke-width="0.7" />
<line x1="191.20" y1="19.69" x2="192.30" y2="19.69" stroke="#1e1e1e" stroke-width="0.7" />
<line x1="191.70" y1="112.20" x2="274.20" y2="112.20" stroke="#3a3a3a" stroke-width="1.2" />
<line x1="206.80" y1="112.20" x2="206.80" y2="113.80" stroke="#1e1e1e" stroke-width="0.9" />
<text x="206.80" y="121.44" font-size="6.5" text-anchor="middle" font-weight="bold" fill="#111" stroke="#111" stroke-width="0.25" >NC</text>
<line x1="233.70" y1="112.20" x2="233.70" y2="113.80" stroke="#1e1e1e" stroke-width="0.9" />
<text x="233.70" y="121.44" font-size="6.5" text-anchor="middle" font-weight="bold" fill="#111" stroke="#111" stroke-width="0.25" >HFD</text>
<line x1="260.80" y1="112.20" x2="260.80" y2="113.80" stroke="#1e1e1e" stroke-width="0.9" />
<text x="260.80" y="121.44" font-size="6.5" text-anchor="middle" font-weight="bold" fill="#111" stroke="#111" stroke-width="0.25" >HFD+QK</text>
<rect x="201.40" y="88.30" width="11.30" height="23.90" fill="#4a4a4a" stroke="#2a2a2a" stroke-width="0.8"/>
<rect x="228.00" y="27.40" width="11.50" height="84.80" fill="#f2413f" stroke="#2a2a2a" stroke-width="0.8"/>
<rect x="255.30" y="45.50" width="11.60" height="66.70" fill="#1f6be0" stroke="#2a2a2a" stroke-width="0.8"/>
<line x1="207.00" y1="86.20" x2="207.00" y2="88.30" stroke="#2a2a2a" stroke-width="0.7" />
<line x1="205.80" y1="86.20" x2="208.20" y2="86.20" stroke="#2a2a2a" stroke-width="0.7" />
<line x1="205.80" y1="88.30" x2="208.20" y2="88.30" stroke="#2a2a2a" stroke-width="0.7" />
<line x1="233.70" y1="25.60" x2="233.70" y2="27.40" stroke="#2a2a2a" stroke-width="0.7" />
<line x1="232.50" y1="25.60" x2="234.90" y2="25.60" stroke="#2a2a2a" stroke-width="0.7" />
<line x1="232.50" y1="27.40" x2="234.90" y2="27.40" stroke="#2a2a2a" stroke-width="0.7" />
<line x1="261.00" y1="43.60" x2="261.00" y2="45.50" stroke="#2a2a2a" stroke-width="0.7" />
<line x1="259.80" y1="43.60" x2="262.20" y2="43.60" stroke="#2a2a2a" stroke-width="0.7" />
<line x1="259.80" y1="45.50" x2="262.20" y2="45.50" stroke="#2a2a2a" stroke-width="0.7" />
<text x="206.80" y="84.42" font-size="7.0" text-anchor="middle" font-weight="bold" fill="#111" stroke="#111" stroke-width="0.25" >a</text>
<text x="233.70" y="22.32" font-size="7.0" text-anchor="middle" font-weight="bold" fill="#111" stroke="#111" stroke-width="0.25" >b</text>
<text x="260.70" y="40.92" font-size="7.0" text-anchor="middle" font-weight="bold" fill="#111" stroke="#111" stroke-width="0.25" >c</text>
<text x="169.10" y="71.20" font-size="6.55" text-anchor="middle" font-weight="bold" fill="#111" stroke="#111" stroke-width="0.25" transform="rotate(-90 169.10 71.20)" dy="2.36">Total fat relative index (%)</text>
<line x1="314.90" y1="23.60" x2="314.90" y2="113.00" stroke="#3a3a3a" stroke-width="1.25" />
<line x1="313.60" y1="112.30" x2="314.90" y2="112.30" stroke="#1e1e1e" stroke-width="0.9" />
<text transform="translate(312.90 114.50) scale(0.95 1)" font-size="7.5" text-anchor="end" font-weight="bold" fill="#111" stroke="#111" stroke-width="0.28" >0</text>
<line x1="313.60" y1="95.35" x2="314.90" y2="95.35" stroke="#1e1e1e" stroke-width="0.9" />
<text transform="translate(312.90 97.55) scale(0.95 1)" font-size="7.5" text-anchor="end" font-weight="bold" fill="#111" stroke="#111" stroke-width="0.28" >100</text>
<line x1="313.60" y1="78.40" x2="314.90" y2="78.40" stroke="#1e1e1e" stroke-width="0.9" />
<text transform="translate(312.90 80.60) scale(0.95 1)" font-size="7.5" text-anchor="end" font-weight="bold" fill="#111" stroke="#111" stroke-width="0.28" >200</text>
<line x1="313.60" y1="61.45" x2="314.90" y2="61.45" stroke="#1e1e1e" stroke-width="0.9" />
<text transform="translate(312.90 63.65) scale(0.95 1)" font-size="7.5" text-anchor="end" font-weight="bold" fill="#111" stroke="#111" stroke-width="0.28" >300</text>
<line x1="313.60" y1="44.50" x2="314.90" y2="44.50" stroke="#1e1e1e" stroke-width="0.9" />
<text transform="translate(312.90 46.70) scale(0.95 1)" font-size="7.5" text-anchor="end" font-weight="bold" fill="#111" stroke="#111" stroke-width="0.28" >400</text>
<line x1="313.60" y1="27.55" x2="314.90" y2="27.55" stroke="#1e1e1e" stroke-width="0.9" />
<text transform="translate(312.90 29.75) scale(0.95 1)" font-size="7.5" text-anchor="end" font-weight="bold" fill="#111" stroke="#111" stroke-width="0.28" >500</text>
<line x1="314.30" y1="112.60" x2="386.80" y2="112.60" stroke="#1e1e1e" stroke-width="1.3" />
<line x1="327.70" y1="112.60" x2="327.70" y2="114.20" stroke="#1e1e1e" stroke-width="0.9" />
<text x="327.70" y="121.04" font-size="6.5" text-anchor="middle" font-weight="bold" fill="#111" stroke="#111" stroke-width="0.25" >NC</text>
<line x1="353.70" y1="112.60" x2="353.70" y2="114.20" stroke="#1e1e1e" stroke-width="0.9" />
<text x="353.70" y="121.04" font-size="6.5" text-anchor="middle" font-weight="bold" fill="#111" stroke="#111" stroke-width="0.25" >HFD</text>
<line x1="379.90" y1="112.60" x2="379.90" y2="114.20" stroke="#1e1e1e" stroke-width="0.9" />
<text x="379.90" y="121.04" font-size="6.5" text-anchor="middle" font-weight="bold" fill="#111" stroke="#111" stroke-width="0.25" >HFD+QK</text>
<rect x="323.00" y="57.00" width="9.50" height="55.60" fill="#4a4a4a" stroke="#2a2a2a" stroke-width="0.8"/>
<rect x="348.90" y="36.30" width="9.70" height="76.30" fill="#f2413f" stroke="#2a2a2a" stroke-width="0.8"/>
<rect x="375.20" y="39.80" width="9.50" height="72.80" fill="#1f6be0" stroke="#2a2a2a" stroke-width="0.8"/>
<line x1="327.70" y1="55.80" x2="327.70" y2="57.00" stroke="#2a2a2a" stroke-width="0.7" />
<line x1="326.70" y1="55.80" x2="328.70" y2="55.80" stroke="#2a2a2a" stroke-width="0.7" />
<line x1="326.70" y1="57.00" x2="328.70" y2="57.00" stroke="#2a2a2a" stroke-width="0.7" />
<line x1="353.70" y1="34.80" x2="353.70" y2="36.30" stroke="#2a2a2a" stroke-width="0.7" />
<line x1="352.70" y1="34.80" x2="354.70" y2="34.80" stroke="#2a2a2a" stroke-width="0.7" />
<line x1="352.70" y1="36.30" x2="354.70" y2="36.30" stroke="#2a2a2a" stroke-width="0.7" />
<line x1="379.90" y1="38.60" x2="379.90" y2="39.80" stroke="#2a2a2a" stroke-width="0.7" />
<line x1="378.90" y1="38.60" x2="380.90" y2="38.60" stroke="#2a2a2a" stroke-width="0.7" />
<line x1="378.90" y1="39.80" x2="380.90" y2="39.80" stroke="#2a2a2a" stroke-width="0.7" />
<text x="327.90" y="55.12" font-size="7.0" text-anchor="middle" font-weight="bold" fill="#111" stroke="#111" stroke-width="0.25" >b</text>
<text x="353.80" y="33.82" font-size="7.0" text-anchor="middle" font-weight="bold" fill="#111" stroke="#111" stroke-width="0.25" >a</text>
<text x="379.60" y="37.42" font-size="7.0" text-anchor="middle" font-weight="bold" fill="#111" stroke="#111" stroke-width="0.25" >a</text>
<text x="291.40" y="65.00" font-size="6.7" text-anchor="middle" font-weight="bold" fill="#111" stroke="#111" stroke-width="0.25" transform="rotate(-90 291.40 65.00)" dy="2.41">Enery intake (Kcal)</text>
<line x1="35.50" y1="151.00" x2="35.50" y2="245.00" stroke="#1e1e1e" stroke-width="1.35" />
<line x1="34.20" y1="235.20" x2="35.50" y2="235.20" stroke="#1e1e1e" stroke-width="0.9" />
<text transform="translate(33.50 237.50) scale(0.95 1)" font-size="7.5" text-anchor="end" font-weight="bold" fill="#111" stroke="#111" stroke-width="0.28" >5</text>
<line x1="34.20" y1="215.50" x2="35.50" y2="215.50" stroke="#1e1e1e" stroke-width="0.9" />
<text transform="translate(33.50 217.80) scale(0.95 1)" font-size="7.5" text-anchor="end" font-weight="bold" fill="#111" stroke="#111" stroke-width="0.28" >10</text>
<line x1="34.20" y1="195.80" x2="35.50" y2="195.80" stroke="#1e1e1e" stroke-width="0.9" />
<text transform="translate(33.50 198.10) scale(0.95 1)" font-size="7.5" text-anchor="end" font-weight="bold" fill="#111" stroke="#111" stroke-width="0.28" >15</text>
<line x1="34.20" y1="176.10" x2="35.50" y2="176.10" stroke="#1e1e1e" stroke-width="0.9" />
<text transform="translate(33.50 178.40) scale(0.95 1)" font-size="7.5" text-anchor="end" font-weight="bold" fill="#111" stroke="#111" stroke-width="0.28" >20</text>
<line x1="34.20" y1="156.40" x2="35.50" y2="156.40" stroke="#1e1e1e" stroke-width="0.9" />
<text transform="translate(33.50 158.70) scale(0.95 1)" font-size="7.5" text-anchor="end" font-weight="bold" fill="#111" stroke="#111" stroke-width="0.28" >25</text>
<line x1="34.40" y1="245.05" x2="35.50" y2="245.05" stroke="#1e1e1e" stroke-width="0.7" />
<line x1="34.40" y1="225.35" x2="35.50" y2="225.35" stroke="#1e1e1e" stroke-width="0.7" />
<line x1="34.40" y1="205.65" x2="35.50" y2="205.65" stroke="#1e1e1e" stroke-width="0.7" />
<line x1="34.40" y1="185.95" x2="35.50" y2="185.95" stroke="#1e1e1e" stroke-width="0.7" />
<line x1="34.40" y1="166.25" x2="35.50" y2="166.25" stroke="#1e1e1e" stroke-width="0.7" />
<line x1="34.40" y1="146.55" x2="35.50" y2="146.55" stroke="#1e1e1e" stroke-width="0.7" />
<line x1="34.90" y1="244.40" x2="157.70" y2="244.40" stroke="#1e1e1e" stroke-width="1.3" />
<line x1="43.60" y1="244.40" x2="43.60" y2="246.00" stroke="#1e1e1e" stroke-width="0.9" />
<text x="43.60" y="252.62" font-size="7.0" text-anchor="middle" font-weight="bold" fill="#111" stroke="#111" stroke-width="0.25" >0</text>
<line x1="69.70" y1="244.40" x2="69.70" y2="246.00" stroke="#1e1e1e" stroke-width="0.9" />
<text x="69.70" y="252.62" font-size="7.0" text-anchor="middle" font-weight="bold" fill="#111" stroke="#111" stroke-width="0.25" >30</text>
<line x1="95.80" y1="244.40" x2="95.80" y2="246.00" stroke="#1e1e1e" stroke-width="0.9" />
<text x="95.80" y="252.62" font-size="7.0" text-anchor="middle" font-weight="bold" fill="#111" stroke="#111" stroke-width="0.25" >60</text>
<line x1="121.90" y1="244.40" x2="121.90" y2="246.00" stroke="#1e1e1e" stroke-width="0.9" />
<text x="121.90" y="252.62" font-size="7.0" text-anchor="middle" font-weight="bold" fill="#111" stroke="#111" stroke-width="0.25" >90</text>
<line x1="148.00" y1="244.40" x2="148.00" y2="246.00" stroke="#1e1e1e" stroke-width="0.9" />
<text x="148.00" y="252.62" font-size="7.0" text-anchor="middle" font-weight="bold" fill="#111" stroke="#111" stroke-width="0.25" >120</text>
<line x1="56.65" y1="244.40" x2="56.65" y2="245.50" stroke="#1e1e1e" stroke-width="0.7" />
<line x1="82.75" y1="244.40" x2="82.75" y2="245.50" stroke="#1e1e1e" stroke-width="0.7" />
<line x1="108.85" y1="244.40" x2="108.85" y2="245.50" stroke="#1e1e1e" stroke-width="0.7" />
<line x1="134.95" y1="244.40" x2="134.95" y2="245.50" stroke="#1e1e1e" stroke-width="0.7" />
<text x="97.30" y="259.53" font-size="7.3" text-anchor="middle" font-weight="bold" fill="#111" stroke="#111" stroke-width="0.25" >Time after injection (min)</text>
<text x="16.00" y="198.10" font-size="7.2" text-anchor="middle" font-weight="bold" fill="#111" stroke="#111" stroke-width="0.25" transform="rotate(-90 16.00 198.10)" dy="2.59">Blood glucose (mmol/L)</text>
<polyline points="43.60,227.40 69.70,202.10 95.80,209.80 121.90,220.40 148.00,232.70" fill="none" stroke="#3c3c3c" stroke-width="1.1" stroke-linejoin="round"/>
<line x1="43.60" y1="224.90" x2="43.60" y2="229.90" stroke="#3c3c3c" stroke-width="0.8" />
<line x1="42.35" y1="224.90" x2="44.85" y2="224.90" stroke="#3c3c3c" stroke-width="0.8" />
<line x1="42.35" y1="229.90" x2="44.85" y2="229.90" stroke="#3c3c3c" stroke-width="0.8" />
<rect x="42.50" y="226.30" width="2.20" height="2.20" fill="#3c3c3c"/>
<line x1="69.70" y1="199.90" x2="69.70" y2="204.30" stroke="#3c3c3c" stroke-width="0.8" />
<line x1="68.45" y1="199.90" x2="70.95" y2="199.90" stroke="#3c3c3c" stroke-width="0.8" />
<line x1="68.45" y1="204.30" x2="70.95" y2="204.30" stroke="#3c3c3c" stroke-width="0.8" />
<rect x="68.60" y="201.00" width="2.20" height="2.20" fill="#3c3c3c"/>
<line x1="95.80" y1="208.20" x2="95.80" y2="211.40" stroke="#3c3c3c" stroke-width="0.8" />
<line x1="94.55" y1="208.20" x2="97.05" y2="208.20" stroke="#3c3c3c" stroke-width="0.8" />
<line x1="94.55" y1="211.40" x2="97.05" y2="211.40" stroke="#3c3c3c" stroke-width="0.8" />
<rect x="94.70" y="208.70" width="2.20" height="2.20" fill="#3c3c3c"/>
<line x1="121.90" y1="218.60" x2="121.90" y2="222.20" stroke="#3c3c3c" stroke-width="0.8" />
<line x1="120.65" y1="218.60" x2="123.15" y2="218.60" stroke="#3c3c3c" stroke-width="0.8" />
<line x1="120.65" y1="222.20" x2="123.15" y2="222.20" stroke="#3c3c3c" stroke-width="0.8" />
<rect x="120.80" y="219.30" width="2.20" height="2.20" fill="#3c3c3c"/>
<line x1="148.00" y1="231.70" x2="148.00" y2="233.70" stroke="#3c3c3c" stroke-width="0.8" />
<line x1="146.75" y1="231.70" x2="149.25" y2="231.70" stroke="#3c3c3c" stroke-width="0.8" />
<line x1="146.75" y1="233.70" x2="149.25" y2="233.70" stroke="#3c3c3c" stroke-width="0.8" />
<rect x="146.90" y="231.60" width="2.20" height="2.20" fill="#3c3c3c"/>
<polyline points="43.60,220.20 69.70,176.00 95.80,187.80 121.90,204.70 148.00,212.40" fill="none" stroke="#2d6ad6" stroke-width="1.1" stroke-linejoin="round"/>
<line x1="43.60" y1="217.20" x2="43.60" y2="223.20" stroke="#2d6ad6" stroke-width="0.8" />
<line x1="42.35" y1="217.20" x2="44.85" y2="217.20" stroke="#2d6ad6" stroke-width="0.8" />
<line x1="42.35" y1="223.20" x2="44.85" y2="223.20" stroke="#2d6ad6" stroke-width="0.8" />
<polygon points="43.60,218.64 42.17,221.24 45.03,221.24" fill="#2d6ad6"/>
<line x1="69.70" y1="173.00" x2="69.70" y2="179.00" stroke="#2d6ad6" stroke-width="0.8" />
<line x1="68.45" y1="173.00" x2="70.95" y2="173.00" stroke="#2d6ad6" stroke-width="0.8" />
<line x1="68.45" y1="179.00" x2="70.95" y2="179.00" stroke="#2d6ad6" stroke-width="0.8" />
<polygon points="69.70,174.44 68.27,177.04 71.13,177.04" fill="#2d6ad6"/>
<line x1="95.80" y1="185.20" x2="95.80" y2="190.40" stroke="#2d6ad6" stroke-width="0.8" />
<line x1="94.55" y1="185.20" x2="97.05" y2="185.20" stroke="#2d6ad6" stroke-width="0.8" />
<line x1="94.55" y1="190.40" x2="97.05" y2="190.40" stroke="#2d6ad6" stroke-width="0.8" />
<polygon points="95.80,186.24 94.37,188.84 97.23,188.84" fill="#2d6ad6"/>
<line x1="121.90" y1="200.40" x2="121.90" y2="209.00" stroke="#2d6ad6" stroke-width="0.8" />
<line x1="120.65" y1="200.40" x2="123.15" y2="200.40" stroke="#2d6ad6" stroke-width="0.8" />
<line x1="120.65" y1="209.00" x2="123.15" y2="209.00" stroke="#2d6ad6" stroke-width="0.8" />
<polygon points="121.90,203.14 120.47,205.74 123.33,205.74" fill="#2d6ad6"/>
<line x1="148.00" y1="210.10" x2="148.00" y2="214.70" stroke="#2d6ad6" stroke-width="0.8" />
<line x1="146.75" y1="210.10" x2="149.25" y2="210.10" stroke="#2d6ad6" stroke-width="0.8" />
<line x1="146.75" y1="214.70" x2="149.25" y2="214.70" stroke="#2d6ad6" stroke-width="0.8" />
<polygon points="148.00,210.84 146.57,213.44 149.43,213.44" fill="#2d6ad6"/>
<polyline points="43.60,214.00 69.70,162.20 95.80,173.00 121.90,184.90 148.00,197.10" fill="none" stroke="#e8403f" stroke-width="1.1" stroke-linejoin="round"/>
<line x1="43.60" y1="209.20" x2="43.60" y2="218.80" stroke="#e8403f" stroke-width="0.8" />
<line x1="42.35" y1="209.20" x2="44.85" y2="209.20" stroke="#e8403f" stroke-width="0.8" />
<line x1="42.35" y1="218.80" x2="44.85" y2="218.80" stroke="#e8403f" stroke-width="0.8" />
<circle cx="43.60" cy="214.00" r="1.3" fill="#e8403f"/>
<line x1="69.70" y1="156.70" x2="69.70" y2="167.70" stroke="#e8403f" stroke-width="0.8" />
<line x1="68.45" y1="156.70" x2="70.95" y2="156.70" stroke="#e8403f" stroke-width="0.8" />
<line x1="68.45" y1="167.70" x2="70.95" y2="167.70" stroke="#e8403f" stroke-width="0.8" />
<circle cx="69.70" cy="162.20" r="1.3" fill="#e8403f"/>
<line x1="95.80" y1="168.80" x2="95.80" y2="177.20" stroke="#e8403f" stroke-width="0.8" />
<line x1="94.55" y1="168.80" x2="97.05" y2="168.80" stroke="#e8403f" stroke-width="0.8" />
<line x1="94.55" y1="177.20" x2="97.05" y2="177.20" stroke="#e8403f" stroke-width="0.8" />
<circle cx="95.80" cy="173.00" r="1.3" fill="#e8403f"/>
<line x1="121.90" y1="178.40" x2="121.90" y2="191.40" stroke="#e8403f" stroke-width="0.8" />
<line x1="120.65" y1="178.40" x2="123.15" y2="178.40" stroke="#e8403f" stroke-width="0.8" />
<line x1="120.65" y1="191.40" x2="123.15" y2="191.40" stroke="#e8403f" stroke-width="0.8" />
<circle cx="121.90" cy="184.90" r="1.3" fill="#e8403f"/>
<line x1="148.00" y1="192.40" x2="148.00" y2="201.80" stroke="#e8403f" stroke-width="0.8" />
<line x1="146.75" y1="192.40" x2="149.25" y2="192.40" stroke="#e8403f" stroke-width="0.8" />
<line x1="146.75" y1="201.80" x2="149.25" y2="201.80" stroke="#e8403f" stroke-width="0.8" />
<circle cx="148.00" cy="197.10" r="1.3" fill="#e8403f"/>
<text x="43.60" y="224.03" font-size="4.8" text-anchor="middle" font-weight="bold" fill="#111" stroke="#111" stroke-width="0.25" >a</text>
<text x="69.70" y="199.03" font-size="4.8" text-anchor="middle" font-weight="bold" fill="#111" stroke="#111" stroke-width="0.25" >a</text>
<text x="95.80" y="207.33" font-size="4.8" text-anchor="middle" font-weight="bold" fill="#111" stroke="#111" stroke-width="0.25" >a</text>
<text x="121.90" y="217.73" font-size="4.8" text-anchor="middle" font-weight="bold" fill="#111" stroke="#111" stroke-width="0.25" >a</text>
<text x="148.00" y="230.83" font-size="4.8" text-anchor="middle" font-weight="bold" fill="#111" stroke="#111" stroke-width="0.25" >a</text>
<text x="69.70" y="172.13" font-size="4.8" text-anchor="middle" font-weight="bold" fill="#111" stroke="#111" stroke-width="0.25" >b</text>
<text x="69.70" y="155.83" font-size="4.8" text-anchor="middle" font-weight="bold" fill="#111" stroke="#111" stroke-width="0.25" >b</text>
<text x="95.80" y="184.33" font-size="4.8" text-anchor="middle" font-weight="bold" fill="#111" stroke="#111" stroke-width="0.25" >b</text>
<text x="95.80" y="167.93" font-size="4.8" text-anchor="middle" font-weight="bold" fill="#111" stroke="#111" stroke-width="0.25" >b</text>
<text x="121.90" y="199.53" font-size="4.8" text-anchor="middle" font-weight="bold" fill="#111" stroke="#111" stroke-width="0.25" >b</text>
<text x="121.90" y="177.53" font-size="4.8" text-anchor="middle" font-weight="bold" fill="#111" stroke="#111" stroke-width="0.25" >a</text>
<text x="148.00" y="209.23" font-size="4.8" text-anchor="middle" font-weight="bold" fill="#111" stroke="#111" stroke-width="0.25" >b</text>
<text x="148.00" y="191.53" font-size="4.8" text-anchor="middle" font-weight="bold" fill="#111" stroke="#111" stroke-width="0.25" >a</text>
<line x1="159.00" y1="152.00" x2="174.70" y2="152.00" stroke="#333333" stroke-width="1.25" />
<circle cx="166.85" cy="152.00" r="1.65" fill="#333333"/>
<text x="178.50" y="154.59" font-size="7.2" text-anchor="start" font-weight="bold" fill="#111" stroke="#111" stroke-width="0.25" >NC</text>
<line x1="159.00" y1="161.50" x2="174.70" y2="161.50" stroke="#d23a3e" stroke-width="1.25" />
<circle cx="166.85" cy="161.50" r="1.65" fill="#d23a3e"/>
<text x="178.50" y="164.09" font-size="7.2" text-anchor="start" font-weight="bold" fill="#111" stroke="#111" stroke-width="0.25" >HFD</text>
<line x1="159.00" y1="171.10" x2="174.70" y2="171.10" stroke="#2552b4" stroke-width="1.25" />
<polygon points="166.85,169.20 165.05,172.30 168.65,172.30" fill="#2552b4"/>
<text x="178.50" y="173.69" font-size="7.2" text-anchor="start" font-weight="bold" fill="#111" stroke="#111" stroke-width="0.25" >HFD+QK</text>
<line x1="275.00" y1="139.40" x2="275.00" y2="247.10" stroke="#1e1e1e" stroke-width="1.35" />
<line x1="273.70" y1="246.60" x2="275.00" y2="246.60" stroke="#1e1e1e" stroke-width="0.9" />
<text transform="translate(272.00 249.70) scale(0.95 1)" font-size="7.5" text-anchor="end" font-weight="bold" fill="#111" stroke="#111" stroke-width="0.28" >0</text>
<line x1="273.70" y1="226.25" x2="275.00" y2="226.25" stroke="#1e1e1e" stroke-width="0.9" />
<text transform="translate(272.00 229.35) scale(0.95 1)" font-size="7.5" text-anchor="end" font-weight="bold" fill="#111" stroke="#111" stroke-width="0.28" >500</text>
<line x1="273.70" y1="205.90" x2="275.00" y2="205.90" stroke="#1e1e1e" stroke-width="0.9" />
<text transform="translate(272.00 209.00) scale(0.95 1)" font-size="7.5" text-anchor="end" font-weight="bold" fill="#111" stroke="#111" stroke-width="0.28" >1000</text>
<line x1="273.70" y1="185.55" x2="275.00" y2="185.55" stroke="#1e1e1e" stroke-width="0.9" />
<text transform="translate(272.00 188.65) scale(0.95 1)" font-size="7.5" text-anchor="end" font-weight="bold" fill="#111" stroke="#111" stroke-width="0.28" >1500</text>
<line x1="273.70" y1="165.20" x2="275.00" y2="165.20" stroke="#1e1e1e" stroke-width="0.9" />
<text transform="translate(272.00 168.30) scale(0.95 1)" font-size="7.5" text-anchor="end" font-weight="bold" fill="#111" stroke="#111" stroke-width="0.28" >2000</text>
<line x1="273.70" y1="144.85" x2="275.00" y2="144.85" stroke="#1e1e1e" stroke-width="0.9" />
<text transform="translate(272.00 147.95) scale(0.95 1)" font-size="7.5" text-anchor="end" font-weight="bold" fill="#111" stroke="#111" stroke-width="0.28" >2500</text>
<line x1="273.90" y1="236.42" x2="275.00" y2="236.42" stroke="#1e1e1e" stroke-width="0.7" />
<line x1="273.90" y1="216.07" x2="275.00" y2="216.07" stroke="#1e1e1e" stroke-width="0.7" />
<line x1="273.90" y1="195.72" x2="275.00" y2="195.72" stroke="#1e1e1e" stroke-width="0.7" />
<line x1="273.90" y1="175.38" x2="275.00" y2="175.38" stroke="#1e1e1e" stroke-width="0.7" />
<line x1="273.90" y1="155.02" x2="275.00" y2="155.02" stroke="#1e1e1e" stroke-width="0.7" />
<line x1="273.90" y1="138.75" x2="275.00" y2="138.75" stroke="#1e1e1e" stroke-width="0.7" />
<line x1="274.40" y1="246.50" x2="367.70" y2="246.50" stroke="#1e1e1e" stroke-width="1.3" />
<line x1="290.40" y1="246.50" x2="290.40" y2="248.10" stroke="#1e1e1e" stroke-width="0.9" />
<text x="290.40" y="256.94" font-size="6.5" text-anchor="middle" font-weight="bold" fill="#111" stroke="#111" stroke-width="0.25" >NC</text>
<line x1="321.00" y1="246.50" x2="321.00" y2="248.10" stroke="#1e1e1e" stroke-width="0.9" />
<text x="321.00" y="256.94" font-size="6.5" text-anchor="middle" font-weight="bold" fill="#111" stroke="#111" stroke-width="0.25" >HFD</text>
<line x1="351.40" y1="246.50" x2="351.40" y2="248.10" stroke="#1e1e1e" stroke-width="0.9" />
<text x="351.40" y="256.94" font-size="6.5" text-anchor="middle" font-weight="bold" fill="#111" stroke="#111" stroke-width="0.25" >HFD+QK</text>
<rect x="284.20" y="198.60" width="12.50" height="47.90" fill="#4a4a4a" stroke="#2a2a2a" stroke-width="0.8"/>
<rect x="314.10" y="156.30" width="13.70" height="90.20" fill="#f2413f" stroke="#2a2a2a" stroke-width="0.8"/>
<rect x="345.00" y="174.40" width="12.90" height="72.10" fill="#1f6be0" stroke="#2a2a2a" stroke-width="0.8"/>
<line x1="290.40" y1="196.30" x2="290.40" y2="198.60" stroke="#2a2a2a" stroke-width="0.7" />
<line x1="289.10" y1="196.30" x2="291.70" y2="196.30" stroke="#2a2a2a" stroke-width="0.7" />
<line x1="289.10" y1="198.60" x2="291.70" y2="198.60" stroke="#2a2a2a" stroke-width="0.7" />
<line x1="321.00" y1="150.10" x2="321.00" y2="156.30" stroke="#2a2a2a" stroke-width="0.7" />
<line x1="319.70" y1="150.10" x2="322.30" y2="150.10" stroke="#2a2a2a" stroke-width="0.7" />
<line x1="319.70" y1="156.30" x2="322.30" y2="156.30" stroke="#2a2a2a" stroke-width="0.7" />
<line x1="351.40" y1="170.50" x2="351.40" y2="174.40" stroke="#2a2a2a" stroke-width="0.7" />
<line x1="350.10" y1="170.50" x2="352.70" y2="170.50" stroke="#2a2a2a" stroke-width="0.7" />
<line x1="350.10" y1="174.40" x2="352.70" y2="174.40" stroke="#2a2a2a" stroke-width="0.7" />
<text x="290.60" y="194.72" font-size="7.0" text-anchor="middle" font-weight="bold" fill="#111" stroke="#111" stroke-width="0.25" >c</text>
<text x="320.80" y="148.52" font-size="7.0" text-anchor="middle" font-weight="bold" fill="#111" stroke="#111" stroke-width="0.25" >a</text>
<text x="351.30" y="168.32" font-size="7.0" text-anchor="middle" font-weight="bold" fill="#111" stroke="#111" stroke-width="0.25" >b</text>
<text x="242.30" y="196.25" font-size="7.2" text-anchor="middle" font-weight="bold" fill="#111" stroke="#111" stroke-width="0.25" transform="rotate(-90 242.30 196.25)" dy="2.59">AUC (mg/dL*min)</text>
<line x1="33.40" y1="281.30" x2="33.40" y2="382.10" stroke="#1e1e1e" stroke-width="1.35" />
<line x1="32.10" y1="373.50" x2="33.40" y2="373.50" stroke="#1e1e1e" stroke-width="0.9" />
<text transform="translate(31.40 375.60) scale(0.95 1)" font-size="7.5" text-anchor="end" font-weight="bold" fill="#111" stroke="#111" stroke-width="0.28" >4</text>
<line x1="32.10" y1="355.70" x2="33.40" y2="355.70" stroke="#1e1e1e" stroke-width="0.9" />
<text transform="translate(31.40 357.80) scale(0.95 1)" font-size="7.5" text-anchor="end" font-weight="bold" fill="#111" stroke="#111" stroke-width="0.28" >6</text>
<line x1="32.10" y1="337.90" x2="33.40" y2="337.90" stroke="#1e1e1e" stroke-width="0.9" />
<text transform="translate(31.40 340.00) scale(0.95 1)" font-size="7.5" text-anchor="end" font-weight="bold" fill="#111" stroke="#111" stroke-width="0.28" >8</text>
<line x1="32.10" y1="320.10" x2="33.40" y2="320.10" stroke="#1e1e1e" stroke-width="0.9" />
<text transform="translate(31.40 322.20) scale(0.95 1)" font-size="7.5" text-anchor="end" font-weight="bold" fill="#111" stroke="#111" stroke-width="0.28" >10</text>
<line x1="32.10" y1="302.30" x2="33.40" y2="302.30" stroke="#1e1e1e" stroke-width="0.9" />
<text transform="translate(31.40 304.40) scale(0.95 1)" font-size="7.5" text-anchor="end" font-weight="bold" fill="#111" stroke="#111" stroke-width="0.28" >12</text>
<line x1="32.10" y1="284.50" x2="33.40" y2="284.50" stroke="#1e1e1e" stroke-width="0.9" />
<text transform="translate(31.40 286.60) scale(0.95 1)" font-size="7.5" text-anchor="end" font-weight="bold" fill="#111" stroke="#111" stroke-width="0.28" >14</text>
<line x1="32.30" y1="382.40" x2="33.40" y2="382.40" stroke="#1e1e1e" stroke-width="0.7" />
<line x1="32.30" y1="364.60" x2="33.40" y2="364.60" stroke="#1e1e1e" stroke-width="0.7" />
<line x1="32.30" y1="346.80" x2="33.40" y2="346.80" stroke="#1e1e1e" stroke-width="0.7" />
<line x1="32.30" y1="329.00" x2="33.40" y2="329.00" stroke="#1e1e1e" stroke-width="0.7" />
<line x1="32.30" y1="311.20" x2="33.40" y2="311.20" stroke="#1e1e1e" stroke-width="0.7" />
<line x1="32.30" y1="293.40" x2="33.40" y2="293.40" stroke="#1e1e1e" stroke-width="0.7" />
<line x1="32.80" y1="381.50" x2="155.40" y2="381.50" stroke="#1e1e1e" stroke-width="1.3" />
<line x1="44.80" y1="381.50" x2="44.80" y2="383.10" stroke="#1e1e1e" stroke-width="0.9" />
<text x="44.80" y="389.62" font-size="7.0" text-anchor="middle" font-weight="bold" fill="#111" stroke="#111" stroke-width="0.25" >0</text>
<line x1="78.19" y1="381.50" x2="78.19" y2="383.10" stroke="#1e1e1e" stroke-width="0.9" />
<text x="78.19" y="389.62" font-size="7.0" text-anchor="middle" font-weight="bold" fill="#111" stroke="#111" stroke-width="0.25" >30</text>
<line x1="111.58" y1="381.50" x2="111.58" y2="383.10" stroke="#1e1e1e" stroke-width="0.9" />
<text x="111.58" y="389.62" font-size="7.0" text-anchor="middle" font-weight="bold" fill="#111" stroke="#111" stroke-width="0.25" >60</text>
<line x1="144.97" y1="381.50" x2="144.97" y2="383.10" stroke="#1e1e1e" stroke-width="0.9" />
<text x="144.97" y="389.62" font-size="7.0" text-anchor="middle" font-weight="bold" fill="#111" stroke="#111" stroke-width="0.25" >90</text>
<line x1="61.49" y1="381.50" x2="61.49" y2="382.60" stroke="#1e1e1e" stroke-width="0.7" />
<line x1="94.88" y1="381.50" x2="94.88" y2="382.60" stroke="#1e1e1e" stroke-width="0.7" />
<line x1="128.27" y1="381.50" x2="128.27" y2="382.60" stroke="#1e1e1e" stroke-width="0.7" />
<text x="93.60" y="396.63" font-size="7.3" text-anchor="middle" font-weight="bold" fill="#111" stroke="#111" stroke-width="0.25" >Time after injection (min)</text>
<text x="15.40" y="330.00" font-size="7.2" text-anchor="middle" font-weight="bold" fill="#111" stroke="#111" stroke-width="0.25" transform="rotate(-90 15.40 330.00)" dy="2.59">Blood glucose (mmol/L)</text>
<polyline points="44.80,345.70 78.19,376.70 111.58,372.80 144.97,357.70" fill="none" stroke="#3c3c3c" stroke-width="1.1" stroke-linejoin="round"/>
<line x1="44.80" y1="341.70" x2="44.80" y2="349.70" stroke="#3c3c3c" stroke-width="0.8" />
<line x1="43.55" y1="341.70" x2="46.05" y2="341.70" stroke="#3c3c3c" stroke-width="0.8" />
<line x1="43.55" y1="349.70" x2="46.05" y2="349.70" stroke="#3c3c3c" stroke-width="0.8" />
<rect x="43.70" y="344.60" width="2.20" height="2.20" fill="#3c3c3c"/>
<line x1="78.19" y1="375.20" x2="78.19" y2="378.20" stroke="#3c3c3c" stroke-width="0.8" />
<line x1="76.94" y1="375.20" x2="79.44" y2="375.20" stroke="#3c3c3c" stroke-width="0.8" />
<line x1="76.94" y1="378.20" x2="79.44" y2="378.20" stroke="#3c3c3c" stroke-width="0.8" />
<rect x="77.09" y="375.60" width="2.20" height="2.20" fill="#3c3c3c"/>
<line x1="111.58" y1="370.30" x2="111.58" y2="375.30" stroke="#3c3c3c" stroke-width="0.8" />
<line x1="110.33" y1="370.30" x2="112.83" y2="370.30" stroke="#3c3c3c" stroke-width="0.8" />
<line x1="110.33" y1="375.30" x2="112.83" y2="375.30" stroke="#3c3c3c" stroke-width="0.8" />
<rect x="110.48" y="371.70" width="2.20" height="2.20" fill="#3c3c3c"/>
<line x1="144.97" y1="354.70" x2="144.97" y2="360.70" stroke="#3c3c3c" stroke-width="0.8" />
<line x1="143.72" y1="354.70" x2="146.22" y2="354.70" stroke="#3c3c3c" stroke-width="0.8" />
<line x1="143.72" y1="360.70" x2="146.22" y2="360.70" stroke="#3c3c3c" stroke-width="0.8" />
<rect x="143.87" y="356.60" width="2.20" height="2.20" fill="#3c3c3c"/>
<polyline points="44.80,309.00 78.19,349.30 111.58,347.90 144.97,334.60" fill="none" stroke="#2d6ad6" stroke-width="1.1" stroke-linejoin="round"/>
<line x1="44.80" y1="302.50" x2="44.80" y2="315.50" stroke="#2d6ad6" stroke-width="0.8" />
<line x1="43.55" y1="302.50" x2="46.05" y2="302.50" stroke="#2d6ad6" stroke-width="0.8" />
<line x1="43.55" y1="315.50" x2="46.05" y2="315.50" stroke="#2d6ad6" stroke-width="0.8" />
<polygon points="44.80,307.44 43.37,310.04 46.23,310.04" fill="#2d6ad6"/>
<line x1="78.19" y1="345.80" x2="78.19" y2="352.80" stroke="#2d6ad6" stroke-width="0.8" />
<line x1="76.94" y1="345.80" x2="79.44" y2="345.80" stroke="#2d6ad6" stroke-width="0.8" />
<line x1="76.94" y1="352.80" x2="79.44" y2="352.80" stroke="#2d6ad6" stroke-width="0.8" />
<polygon points="78.19,347.74 76.76,350.34 79.62,350.34" fill="#2d6ad6"/>
<line x1="111.58" y1="343.40" x2="111.58" y2="352.40" stroke="#2d6ad6" stroke-width="0.8" />
<line x1="110.33" y1="343.40" x2="112.83" y2="343.40" stroke="#2d6ad6" stroke-width="0.8" />
<line x1="110.33" y1="352.40" x2="112.83" y2="352.40" stroke="#2d6ad6" stroke-width="0.8" />
<polygon points="111.58,346.34 110.15,348.94 113.01,348.94" fill="#2d6ad6"/>
<line x1="144.97" y1="330.60" x2="144.97" y2="338.60" stroke="#2d6ad6" stroke-width="0.8" />
<line x1="143.72" y1="330.60" x2="146.22" y2="330.60" stroke="#2d6ad6" stroke-width="0.8" />
<line x1="143.72" y1="338.60" x2="146.22" y2="338.60" stroke="#2d6ad6" stroke-width="0.8" />
<polygon points="144.97,333.04 143.54,335.64 146.40,335.64" fill="#2d6ad6"/>
<polyline points="44.80,302.40 78.19,342.20 111.58,345.40 144.97,331.90" fill="none" stroke="#e8403f" stroke-width="1.1" stroke-linejoin="round"/>
<line x1="44.80" y1="296.40" x2="44.80" y2="308.40" stroke="#e8403f" stroke-width="0.8" />
<line x1="43.55" y1="296.40" x2="46.05" y2="296.40" stroke="#e8403f" stroke-width="0.8" />
<line x1="43.55" y1="308.40" x2="46.05" y2="308.40" stroke="#e8403f" stroke-width="0.8" />
<circle cx="44.80" cy="302.40" r="1.3" fill="#e8403f"/>
<line x1="78.19" y1="339.20" x2="78.19" y2="345.20" stroke="#e8403f" stroke-width="0.8" />
<line x1="76.94" y1="339.20" x2="79.44" y2="339.20" stroke="#e8403f" stroke-width="0.8" />
<line x1="76.94" y1="345.20" x2="79.44" y2="345.20" stroke="#e8403f" stroke-width="0.8" />
<circle cx="78.19" cy="342.20" r="1.3" fill="#e8403f"/>
<line x1="111.58" y1="341.90" x2="111.58" y2="348.90" stroke="#e8403f" stroke-width="0.8" />
<line x1="110.33" y1="341.90" x2="112.83" y2="341.90" stroke="#e8403f" stroke-width="0.8" />
<line x1="110.33" y1="348.90" x2="112.83" y2="348.90" stroke="#e8403f" stroke-width="0.8" />
<circle cx="111.58" cy="345.40" r="1.3" fill="#e8403f"/>
<line x1="144.97" y1="327.40" x2="144.97" y2="336.40" stroke="#e8403f" stroke-width="0.8" />
<line x1="143.72" y1="327.40" x2="146.22" y2="327.40" stroke="#e8403f" stroke-width="0.8" />
<line x1="143.72" y1="336.40" x2="146.22" y2="336.40" stroke="#e8403f" stroke-width="0.8" />
<circle cx="144.97" cy="331.90" r="1.3" fill="#e8403f"/>
<text x="44.80" y="340.83" font-size="4.8" text-anchor="middle" font-weight="bold" fill="#111" stroke="#111" stroke-width="0.25" >a</text>
<text x="44.80" y="295.53" font-size="4.8" text-anchor="middle" font-weight="bold" fill="#111" stroke="#111" stroke-width="0.25" >b</text>
<text x="78.19" y="374.33" font-size="4.8" text-anchor="middle" font-weight="bold" fill="#111" stroke="#111" stroke-width="0.25" >a</text>
<text x="78.19" y="338.33" font-size="4.8" text-anchor="middle" font-weight="bold" fill="#111" stroke="#111" stroke-width="0.25" >b</text>
<text x="111.58" y="369.43" font-size="4.8" text-anchor="middle" font-weight="bold" fill="#111" stroke="#111" stroke-width="0.25" >a</text>
<text x="111.58" y="341.03" font-size="4.8" text-anchor="middle" font-weight="bold" fill="#111" stroke="#111" stroke-width="0.25" >b</text>
<text x="144.97" y="353.83" font-size="4.8" text-anchor="middle" font-weight="bold" fill="#111" stroke="#111" stroke-width="0.25" >a</text>
<text x="144.97" y="326.53" font-size="4.8" text-anchor="middle" font-weight="bold" fill="#111" stroke="#111" stroke-width="0.25" >b</text>
<line x1="158.40" y1="286.40" x2="174.40" y2="286.40" stroke="#333333" stroke-width="1.25" />
<circle cx="166.40" cy="286.40" r="1.65" fill="#333333"/>
<text x="176.60" y="288.99" font-size="7.2" text-anchor="start" font-weight="bold" fill="#111" stroke="#111" stroke-width="0.25" >NC</text>
<line x1="158.40" y1="296.80" x2="174.40" y2="296.80" stroke="#d23a3e" stroke-width="1.25" />
<circle cx="166.40" cy="296.80" r="1.65" fill="#d23a3e"/>
<text x="176.60" y="299.39" font-size="7.2" text-anchor="start" font-weight="bold" fill="#111" stroke="#111" stroke-width="0.25" >HFD</text>
<line x1="158.40" y1="306.70" x2="174.40" y2="306.70" stroke="#2552b4" stroke-width="1.25" />
<polygon points="166.40,304.80 164.60,307.90 168.20,307.90" fill="#2552b4"/>
<text x="176.60" y="309.29" font-size="7.2" text-anchor="start" font-weight="bold" fill="#111" stroke="#111" stroke-width="0.25" >HFD+QK</text>
<line x1="274.70" y1="272.10" x2="274.70" y2="382.10" stroke="#1e1e1e" stroke-width="1.35" />
<line x1="273.40" y1="381.50" x2="274.70" y2="381.50" stroke="#1e1e1e" stroke-width="0.9" />
<text transform="translate(272.70 385.00) scale(0.95 1)" font-size="7.5" text-anchor="end" font-weight="bold" fill="#111" stroke="#111" stroke-width="0.28" >0</text>
<line x1="273.40" y1="355.06" x2="274.70" y2="355.06" stroke="#1e1e1e" stroke-width="0.9" />
<text transform="translate(272.70 358.56) scale(0.95 1)" font-size="7.5" text-anchor="end" font-weight="bold" fill="#111" stroke="#111" stroke-width="0.28" >200</text>
<line x1="273.40" y1="328.62" x2="274.70" y2="328.62" stroke="#1e1e1e" stroke-width="0.9" />
<text transform="translate(272.70 332.12) scale(0.95 1)" font-size="7.5" text-anchor="end" font-weight="bold" fill="#111" stroke="#111" stroke-width="0.28" >400</text>
<line x1="273.40" y1="302.18" x2="274.70" y2="302.18" stroke="#1e1e1e" stroke-width="0.9" />
<text transform="translate(272.70 305.68) scale(0.95 1)" font-size="7.5" text-anchor="end" font-weight="bold" fill="#111" stroke="#111" stroke-width="0.28" >600</text>
<line x1="273.40" y1="275.74" x2="274.70" y2="275.74" stroke="#1e1e1e" stroke-width="0.9" />
<text transform="translate(272.70 279.24) scale(0.95 1)" font-size="7.5" text-anchor="end" font-weight="bold" fill="#111" stroke="#111" stroke-width="0.28" >800</text>
<line x1="273.60" y1="368.28" x2="274.70" y2="368.28" stroke="#1e1e1e" stroke-width="0.7" />
<line x1="273.60" y1="341.84" x2="274.70" y2="341.84" stroke="#1e1e1e" stroke-width="0.7" />
<line x1="273.60" y1="315.40" x2="274.70" y2="315.40" stroke="#1e1e1e" stroke-width="0.7" />
<line x1="273.60" y1="288.96" x2="274.70" y2="288.96" stroke="#1e1e1e" stroke-width="0.7" />
<line x1="274.10" y1="381.50" x2="366.90" y2="381.50" stroke="#1e1e1e" stroke-width="1.3" />
<line x1="290.00" y1="381.50" x2="290.00" y2="383.10" stroke="#1e1e1e" stroke-width="0.9" />
<text x="290.00" y="391.14" font-size="6.5" text-anchor="middle" font-weight="bold" fill="#111" stroke="#111" stroke-width="0.25" >NC</text>
<line x1="320.40" y1="381.50" x2="320.40" y2="383.10" stroke="#1e1e1e" stroke-width="0.9" />
<text x="320.40" y="391.14" font-size="6.5" text-anchor="middle" font-weight="bold" fill="#111" stroke="#111" stroke-width="0.25" >HFD</text>
<line x1="351.00" y1="381.50" x2="351.00" y2="383.10" stroke="#1e1e1e" stroke-width="0.9" />
<text x="351.00" y="391.14" font-size="6.5" text-anchor="middle" font-weight="bold" fill="#111" stroke="#111" stroke-width="0.25" >HFD+QK</text>
<rect x="283.60" y="326.50" width="12.70" height="55.00" fill="#4a4a4a" stroke="#2a2a2a" stroke-width="0.8"/>
<rect x="314.30" y="283.90" width="12.20" height="97.60" fill="#f2413f" stroke="#2a2a2a" stroke-width="0.8"/>
<rect x="344.40" y="290.40" width="13.00" height="91.10" fill="#1f6be0" stroke="#2a2a2a" stroke-width="0.8"/>
<line x1="290.00" y1="324.50" x2="290.00" y2="326.50" stroke="#2a2a2a" stroke-width="0.7" />
<line x1="288.70" y1="324.50" x2="291.30" y2="324.50" stroke="#2a2a2a" stroke-width="0.7" />
<line x1="288.70" y1="326.50" x2="291.30" y2="326.50" stroke="#2a2a2a" stroke-width="0.7" />
<line x1="320.40" y1="279.80" x2="320.40" y2="283.90" stroke="#2a2a2a" stroke-width="0.7" />
<line x1="319.10" y1="279.80" x2="321.70" y2="279.80" stroke="#2a2a2a" stroke-width="0.7" />
<line x1="319.10" y1="283.90" x2="321.70" y2="283.90" stroke="#2a2a2a" stroke-width="0.7" />
<line x1="351.00" y1="287.50" x2="351.00" y2="290.40" stroke="#2a2a2a" stroke-width="0.7" />
<line x1="349.70" y1="287.50" x2="352.30" y2="287.50" stroke="#2a2a2a" stroke-width="0.7" />
<line x1="349.70" y1="290.40" x2="352.30" y2="290.40" stroke="#2a2a2a" stroke-width="0.7" />
<text x="290.10" y="322.62" font-size="7.0" text-anchor="middle" font-weight="bold" fill="#111" stroke="#111" stroke-width="0.25" >b</text>
<text x="320.00" y="277.82" font-size="7.0" text-anchor="middle" font-weight="bold" fill="#111" stroke="#111" stroke-width="0.25" >a</text>
<text x="351.00" y="284.92" font-size="7.0" text-anchor="middle" font-weight="bold" fill="#111" stroke="#111" stroke-width="0.25" >a</text>
<text x="242.80" y="329.25" font-size="7.2" text-anchor="middle" font-weight="bold" fill="#111" stroke="#111" stroke-width="0.25" transform="rotate(-90 242.80 329.25)" dy="2.59">AUC (mg/dL*min)</text>
</svg>
</body></html>
